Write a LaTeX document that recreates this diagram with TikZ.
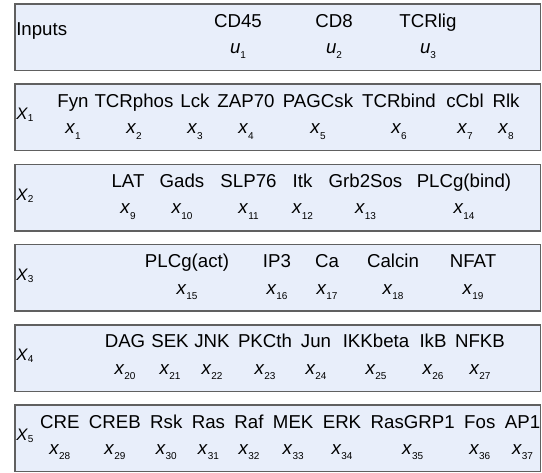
\documentclass[tikz,border=0pt]{standalone}
\usepackage{fontspec}
\setmainfont{Liberation Sans}
\usetikzlibrary{positioning}

\definecolor{layerfill}{RGB}{232,238,250}
\definecolor{layerline}{RGB}{96,96,96}

% state variable with a low, small index
\newcommand{\svar}[2]{\textit{#1}\raisebox{-4pt}{\fontsize{7.5}{8}\selectfont #2}}
% layer name
\newcommand{\lvar}[2]{\textit{#1}\raisebox{-1.5pt}{\fontsize{7.5}{8}\selectfont #2}}

\tikzset{
layerbox/.style={draw=layerline,fill=layerfill,line width=1.1pt},
protein/.style={anchor=base,inner sep=0pt,text height=10pt,text depth=3pt,
  font=\fontsize{14}{16}\selectfont},
statevar/.style={inner sep=0pt,text height=7pt,text depth=4pt,
  font=\fontsize{14}{16}\selectfont},
layer/.style={anchor=west,inner sep=0pt,font=\fontsize{12.5}{14}\selectfont}
}

\begin{document}
\begin{tikzpicture}[x=0.75pt,y=-0.75pt]
\useasboundingbox (0,0) rectangle (542,472);

% one box per layer
\foreach \t in {4,84.2,164.4,244.6,324.8,405}
  \draw[layerbox] (15,\t) rectangle (540.5,\t+66.5);

% inputs
\node[layer,font=\fontsize{14}{16}\selectfont] (inputs) at (16,31) {Inputs};
\foreach \x/\p/\i in {238/CD45/1,334/CD8/2,428/TCRlig/3}{
  \node[protein] (in\i) at (\x,27) {\p};
  \node[statevar,below=9.5pt of in\i] (u\i) {\svar{u}{\i}};
}

% layer 1
\node[layer] (L1) at (16,115.2) {\lvar{X}{1}};
\foreach \x/\p/\i in {73/Fyn/1,134/TCRphos/2,195/Lck/3,246/ZAP70/4,
    318/PAGCsk/5,399/TCRbind/6,465/cCbl/7,506/Rlk/8}{
  \node[protein] (p\i) at (\x,107.2) {\p};
  \node[statevar,below=9.5pt of p\i] (x\i) {\svar{x}{\i}};
}

% layer 2
\node[layer] (L2) at (16,195.4) {\lvar{X}{2}};
\foreach \x/\p/\i in {128/LAT/9,182/Gads/10,248.5/SLP76/11,302.5/Itk/12,
    365.5/Grb2Sos/13,464/PLCg(bind)/14}{
  \node[protein] (p\i) at (\x,187.4) {\p};
  \node[statevar,below=9.5pt of p\i] (x\i) {\svar{x}{\i}};
}

% layer 3
\node[layer] (L3) at (16,275.6) {\lvar{X}{3}};
\foreach \x/\p/\i in {187/PLCg(act)/15,277/IP3/16,327/Ca/17,393/Calcin/18,
    473/NFAT/19}{
  \node[protein] (p\i) at (\x,267.6) {\p};
  \node[statevar,below=9.5pt of p\i] (x\i) {\svar{x}{\i}};
}

% layer 4
\node[layer] (L4) at (16,355.8) {\lvar{X}{4}};
\foreach \x/\p/\i in {125/DAG/20,170/SEK/21,212/JNK/22,265/PKCth/23,
    316/Jun/24,376/IKKbeta/25,433/IkB/26,480/NFKB/27}{
  \node[protein] (p\i) at (\x,347.8) {\p};
  \node[statevar,below=9.5pt of p\i] (x\i) {\svar{x}{\i}};
}

% layer 5
\node[layer] (L5) at (16,436) {\lvar{X}{5}};
\foreach \x/\p/\i in {59.8/CRE/28,114.9/CREB/29,166.3/Rsk/30,208.4/Ras/31,
    249/Raf/32,293.2/MEK/33,342/ERK/34,412.7/RasGRP1/35,479.8/Fos/36,
    522.5/AP1/37}{
  \node[protein] (p\i) at (\x,428) {\p};
  \node[statevar,below=9.5pt of p\i] (x\i) {\svar{x}{\i}};
}

\end{tikzpicture}
\end{document}
